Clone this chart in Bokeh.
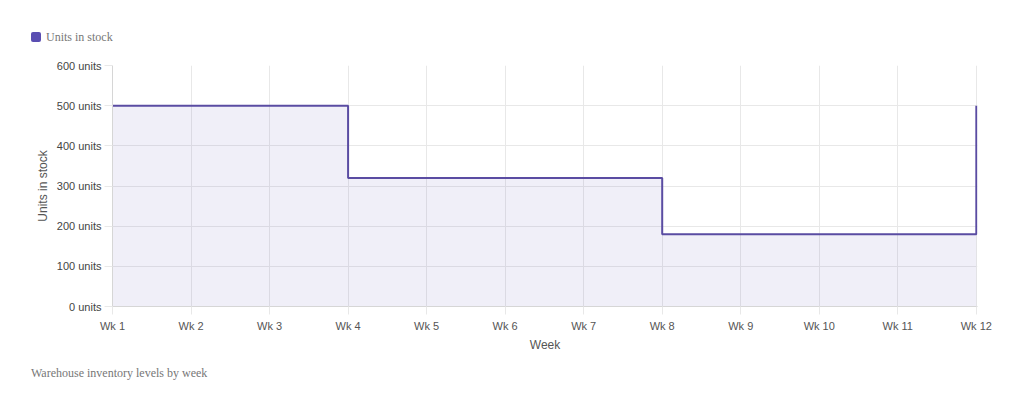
from bokeh.plotting import figure
from bokeh.models import Range1d, FixedTicker, Div
from bokeh.layouts import column
from bokeh.embed import file_html
from bokeh.resources import INLINE

weeks = ["Wk 1", "Wk 2", "Wk 3", "Wk 4", "Wk 5", "Wk 6", "Wk 7", "Wk 8", "Wk 9", "Wk 10", "Wk 11", "Wk 12"]
stock = [500, 500, 500, 320, 320, 320, 320, 180, 180, 180, 180, 500]
y_ticks = [0, 100, 200, 300, 400, 500, 600]
series_name = "Units in stock"
x_title = "Week"
y_title = "Units in stock"
footer = "Warehouse inventory levels by week"

LINE = "#5a4ca2"
SWATCH = "#5a4eb2"
FILL = "#5a4eb2"
GRID = "#e8e8e8"
AXIS = "#d6d6d6"
TXT = "#555555"

xs = list(range(len(weeks)))

legend_div = Div(width=1017, height=50, margin=0, text=(
    '<div style="padding:30px 0 0 31px;font-family:\'Liberation Serif\';font-size:12px;'
    'line-height:14px;color:#777777;white-space:nowrap">'
    f'<span style="display:inline-block;width:10px;height:10px;background:{SWATCH};'
    'border-radius:2px;vertical-align:-1px;margin-right:5px"></span>'
    f'{series_name}</div>'))

p = figure(width=1017, height=310, output_backend="svg", toolbar_location=None,
           x_range=Range1d(0, len(weeks) - 1 + 0.015), y_range=Range1d(0, 600),
           min_border_left=112, min_border_right=40, min_border_top=15, min_border_bottom=54,
           margin=0)
p.outline_line_color = None

p.varea_step(x=xs, y1=[0] * len(xs), y2=stock, step_mode="after",
             fill_color=FILL, fill_alpha=0.09)
p.step(x=xs, y=stock, mode="after", line_color=LINE, line_width=2)

p.xaxis.ticker = FixedTicker(ticks=xs)
p.xaxis.major_label_overrides = {i: w for i, w in enumerate(weeks)}
p.yaxis.ticker = FixedTicker(ticks=y_ticks)
p.yaxis.major_label_overrides = {v: f"{v} units" for v in y_ticks}
p.xgrid.ticker = FixedTicker(ticks=xs)
p.ygrid.ticker = FixedTicker(ticks=y_ticks)
p.xgrid.grid_line_color = GRID
p.ygrid.grid_line_color = GRID

for ax in (p.xaxis[0], p.yaxis[0]):
    ax.axis_line_color = AXIS
    ax.major_tick_line_color = GRID
    ax.major_tick_out = 8
    ax.major_tick_in = 0
    ax.minor_tick_line_color = None
    ax.major_label_text_font = "Liberation Sans"
    ax.major_label_text_font_size = "11px"
    ax.major_label_text_color = TXT
    ax.axis_label_text_font = "Liberation Sans"
    ax.axis_label_text_font_size = "12px"
    ax.axis_label_text_font_style = "normal"
    ax.axis_label_text_color = TXT

p.yaxis.major_label_text_color = "#444444"
p.xaxis.axis_label = x_title
p.yaxis.axis_label = y_title
p.xaxis.major_label_standoff = 5
p.yaxis.major_label_standoff = 3
p.xaxis.axis_label_standoff = 3
p.yaxis.axis_label_standoff = 4

footer_div = Div(width=1017, height=30, margin=0, text=(
    '<div style="padding:6px 0 0 31px;font-family:\'Liberation Serif\';font-size:12px;'
    f'line-height:14px;color:#777777;white-space:nowrap">{footer}</div>'))

layout = column(legend_div, p, footer_div, spacing=0)

open("out.html", "w").write(file_html(layout, INLINE))
